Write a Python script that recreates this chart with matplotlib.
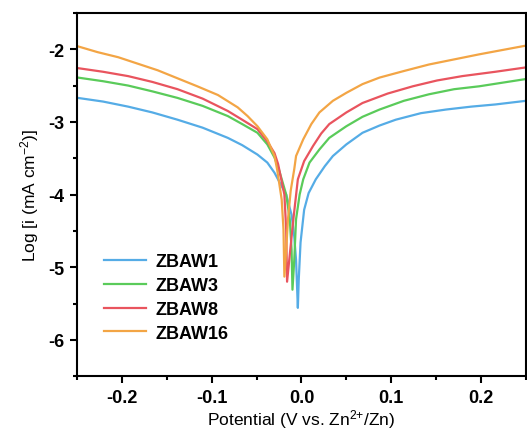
import numpy as np
import matplotlib

matplotlib.use("Agg")

import matplotlib.pyplot as plt
from matplotlib.ticker import MultipleLocator

plt.rcParams["font.family"] = ["Liberation Sans", "DejaVu Sans"]
plt.rcParams["axes.unicode_minus"] = False
plt.rcParams["mathtext.fontset"] = "custom"
plt.rcParams["mathtext.rm"] = "Liberation Sans"
plt.rcParams["mathtext.it"] = "Liberation Sans:italic"
plt.rcParams["mathtext.bf"] = "Liberation Sans:bold"

# Tafel curves: potential (V) and log current
zbaw1_v = [-0.249, -0.221, -0.193, -0.166, -0.138, -0.110, -0.082, -0.066, -0.049,
           -0.038, -0.030, -0.024, -0.017, -0.011, -0.008, -0.006, -0.004,
           -0.003, -0.001, 0.003, 0.008, 0.016, 0.026, 0.035, 0.050, 0.068,
           0.087, 0.105, 0.133, 0.161, 0.189, 0.216, 0.250]
zbaw1_i = [-2.67, -2.72, -2.79, -2.87, -2.97, -3.08, -3.22, -3.32, -3.45,
           -3.56, -3.70, -3.84, -4.00, -4.28, -4.58, -4.90, -5.56,
           -5.17, -4.66, -4.21, -3.98, -3.79, -3.61, -3.47, -3.31, -3.15,
           -3.05, -2.97, -2.88, -2.83, -2.79, -2.76, -2.71]

zbaw3_v = [-0.249, -0.221, -0.193, -0.166, -0.138, -0.110, -0.082, -0.066, -0.049,
           -0.038, -0.030, -0.025, -0.017, -0.013, -0.011, -0.010,
           -0.008, -0.006, -0.002, 0.002, 0.009, 0.020, 0.031, 0.050, 0.068,
           0.087, 0.114, 0.142, 0.170, 0.198, 0.224, 0.250]
zbaw3_i = [-2.39, -2.44, -2.50, -2.58, -2.67, -2.78, -2.92, -3.03, -3.15,
           -3.31, -3.49, -3.66, -4.00, -4.34, -4.76, -5.31,
           -4.90, -4.34, -4.00, -3.79, -3.56, -3.38, -3.22, -3.06, -2.93,
           -2.83, -2.71, -2.62, -2.55, -2.51, -2.46, -2.41]

zbaw8_v = [-0.249, -0.221, -0.193, -0.166, -0.138, -0.110, -0.082, -0.066, -0.049,
           -0.038, -0.030, -0.026, -0.019, -0.017, -0.016,
           -0.013, -0.009, -0.004, 0.003, 0.013, 0.022, 0.031, 0.050, 0.068,
           0.096, 0.124, 0.151, 0.179, 0.216, 0.250]
zbaw8_i = [-2.26, -2.31, -2.37, -2.45, -2.55, -2.68, -2.85, -2.97, -3.10,
           -3.27, -3.43, -3.58, -4.00, -4.48, -5.20,
           -4.83, -4.34, -3.79, -3.54, -3.33, -3.16, -3.03, -2.87, -2.74,
           -2.61, -2.51, -2.43, -2.37, -2.31, -2.25]

zbaw16_v = [-0.249, -0.227, -0.204, -0.182, -0.160, -0.138, -0.116, -0.093, -0.071,
            -0.060, -0.049, -0.038, -0.030, -0.027, -0.022, -0.020, -0.019,
            -0.017, -0.015, -0.012, -0.008, -0.006, 0.002, 0.011, 0.020, 0.035,
            0.050, 0.068, 0.087, 0.114, 0.142, 0.170, 0.198, 0.224, 0.250]
zbaw16_i = [-1.96, -2.04, -2.11, -2.20, -2.29, -2.40, -2.51, -2.63, -2.80,
            -2.92, -3.06, -3.24, -3.47, -3.66, -4.07, -4.48, -5.13,
            -4.76, -4.34, -3.95, -3.65, -3.47, -3.24, -3.03, -2.87, -2.71,
            -2.60, -2.48, -2.39, -2.30, -2.21, -2.14, -2.07, -2.01, -1.95]

series = [
    ("ZBAW1", zbaw1_v, zbaw1_i, "#55ACE6"),
    ("ZBAW3", zbaw3_v, zbaw3_i, "#5ACB5A"),
    ("ZBAW8", zbaw8_v, zbaw8_i, "#E9545E"),
    ("ZBAW16", zbaw16_v, zbaw16_i, "#F3A545"),
]

fig = plt.figure(figsize=(5.27, 4.35), dpi=100)
ax = fig.add_axes([0.146, 0.133, 0.852, 0.835])

for name, v, li, color in series:
    ax.plot(v, li, color=color, linewidth=1.6, label=name, solid_joinstyle="round")

ax.set_xlim(-0.25, 0.25)
ax.set_ylim(-6.5, -1.5)

ax.xaxis.set_minor_locator(MultipleLocator(0.05))
ax.yaxis.set_major_locator(MultipleLocator(1))
ax.yaxis.set_minor_locator(MultipleLocator(0.5))
ax.set_xticks([-0.2, -0.1, 0.0, 0.1, 0.2])
ax.set_xticklabels(["-0.2", "-0.1", "0.0", "0.1", "0.2"])

for s in ax.spines.values():
    s.set_linewidth(1.5)
ax.tick_params(which="both", direction="out", width=1.5, top=False, right=False)
ax.tick_params(which="major", length=5, labelsize=13, pad=4)
ax.tick_params(which="minor", length=3)
for lab in ax.get_xticklabels() + ax.get_yticklabels():
    lab.set_fontweight("bold")

ax.set_xlabel(r"Potential (V vs. Zn$\mathregular{^{2{+}}}$/Zn)", fontsize=12.5, labelpad=1)
ax.set_ylabel(r"Log [i (mA cm$\mathregular{^{-2}}$)]", fontsize=12.5, labelpad=5)

ax.legend(
    loc="lower left",
    bbox_to_anchor=(0.025, 0.05),
    frameon=False,
    prop={"weight": "bold", "size": 13},
    handlelength=2.3,
    handletextpad=0.55,
    labelspacing=0.38,
)

fig.savefig("out.png", dpi=100, facecolor="white")
